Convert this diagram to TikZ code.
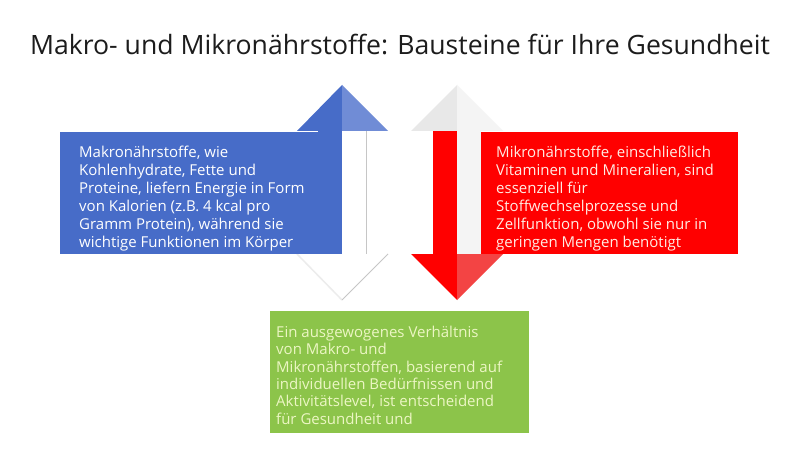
\documentclass[tikz,border=0pt]{standalone}
\usepackage{fontspec}
\setmainfont{Open Sans}
\definecolor{blueA}{RGB}{71,108,200}
\definecolor{blueB}{RGB}{112,140,214}
\definecolor{redA}{RGB}{255,0,0}
\definecolor{redB}{RGB}{243,68,68}
\definecolor{greenA}{RGB}{140,196,74}
\definecolor{greenText}{RGB}{236,246,196}
\definecolor{redText}{RGB}{255,236,228}
\definecolor{lightA}{RGB}{232,232,232}
\definecolor{lightB}{RGB}{244,244,244}
\definecolor{titleC}{RGB}{28,28,28}
\begin{document}
\begin{tikzpicture}[x=1pt,y=-1pt,
  box/.style={draw=none, rectangle, inner sep=0pt, anchor=north west},
  boxtext/.style={anchor=north west, inner sep=0pt, align=left,
    font=\fontsize{15}{18}\selectfont}]
\useasboundingbox[fill=white] (0,0) rectangle (800,449);
% title
\node[anchor=base, font=\fontsize{26.6}{30}\selectfont, text=titleC] (title) at (400,55) {Makro- und Mikronährstoffe: Bausteine für Ihre Gesundheit};

% ---- left double arrow (blue up) ----
\fill[blueA] (318,131) rectangle (342,254);
\fill[white] (342,131) rectangle (366,254);
\draw[gray!45, line width=1pt] (366,131) -- (366,254);
\fill[blueA] (297,131) -- (342,85) -- (342,131) -- cycle;
\fill[blueB] (342,85) -- (388,131) -- (342,131) -- cycle;
\fill[white] (297,254) -- (388,254) -- (342,300) -- cycle;
\draw[gray!15, line width=1.5pt] (297,254) -- (342,300);
\draw[gray!45, line width=1pt] (388,254) -- (342,300);

% ---- right double arrow (red down) ----
\fill[redA] (433,131) rectangle (457,254);
\fill[lightB] (457,131) rectangle (481,254);
\fill[lightA] (411,131) -- (457,85) -- (457,131) -- cycle;
\fill[lightB] (457,85) -- (503,131) -- (457,131) -- cycle;
\fill[redA] (411,254) -- (457,254) -- (457,300) -- cycle;
\fill[redB] (457,254) -- (503,254) -- (457,300) -- cycle;

% ---- boxes ----
\node[box, fill=blueA, minimum width=281pt, minimum height=122pt] (macro) at (60,132) {};
\node[box, fill=redA, minimum width=257pt, minimum height=122pt] (micro) at (481,132) {};
\node[box, fill=greenA, minimum width=259pt, minimum height=122pt] (balance) at (270,311) {};

\node[boxtext, text=white] (macrotext) at (79,146) {Makronährstoffe, wie\\Kohlenhydrate, Fette und\\Proteine, liefern Energie in Form\\von Kalorien (z.B. 4 kcal pro\\Gramm Protein), während sie\\wichtige Funktionen im Körper};
\node[boxtext, text=redText] (microtext) at (496,146) {Mikronährstoffe, einschließlich\\Vitaminen und Mineralien, sind\\essenziell für\\Stoffwechselprozesse und\\Zellfunktion, obwohl sie nur in\\geringen Mengen benötigt};
\node[boxtext, text=greenText, font=\fontsize{15}{17.3}\selectfont] (balancetext) at (276,326) {Ein ausgewogenes Verhältnis\\von Makro- und\\Mikronährstoffen, basierend auf\\individuellen Bedürfnissen und\\Aktivitätslevel, ist entscheidend\\für Gesundheit und};
\end{tikzpicture}
\end{document}
